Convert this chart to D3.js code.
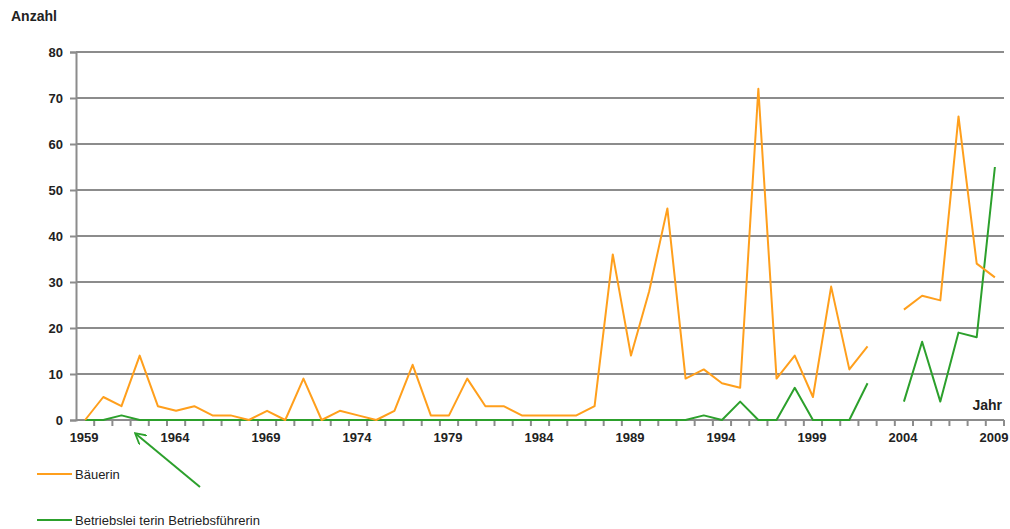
<!DOCTYPE html>
<html>
<head>
<meta charset="utf-8">
<script src="https://cdn.jsdelivr.net/npm/d3@7"></script>
<style>
  body { margin: 0; background: #fff; }
  text { font-family: "Liberation Sans", Arial, sans-serif; fill: #222; }
</style>
</head>
<body>
<div id="chart"></div>
<script>
// data (null = gap)
const years = d3.range(1959, 2010);
const baeuerin = [0, 5, 3, 14, 3, 2, 3, 1, 1, 0, 2, 0, 9, 0, 2, 1, 0, 2, 12, 1,
    1, 9, 3, 3, 1, 1, 1, 1, 3, 36, 14, 28, 46, 9, 11, 8, 7, 72, 9, 14,
    5, 29, 11, 16, null, 24, 27, 26, 66, 34, 31];
const leiterin = [0, 0, 1, 0, 0, 0, 0, 0, 0, 0, 0, 0, 0, 0, 0, 0, 0, 0, 0, 0,
    0, 0, 0, 0, 0, 0, 0, 0, 0, 0, 0, 0, 0, 0, 1, 0, 4, 0, 0, 7,
    0, 0, 0, 8, null, 4, 17, 4, 19, 18, 55];
const yTicks = [0, 10, 20, 30, 40, 50, 60, 70, 80];
const labelYears = [1959, 1964, 1969, 1974, 1979, 1984, 1989, 1994, 1999, 2004, 2009];
const seriesNames = ["Bäuerin", "Betriebslei terin Betriebsführerin"];
const colors = ["#ff9f1c", "#2ca02c"];

const W = 1010, H = 529;
const margin = {top: 52, right: 6, bottom: 109, left: 76};
const width = W - margin.left - margin.right;
const height = H - margin.top - margin.bottom;

const svg = d3.select("#chart").append("svg")
    .attr("width", W)
    .attr("height", H);

const g = svg.append("g")
    .attr("transform", `translate(${margin.left}, ${margin.top})`);

// scales
const x = d3.scaleBand()
    .domain(years)
    .range([0, width])
    .paddingInner(0)
    .paddingOuter(0);

const y = d3.scaleLinear()
    .domain([0, 80])
    .range([height, 0]);

const cx = d => x(d) + x.bandwidth() / 2;

// gridlines
g.selectAll(".grid")
    .data(yTicks.filter(d => d > 0))
    .enter().append("line")
    .attr("class", "grid")
    .attr("x1", 0)
    .attr("x2", width)
    .attr("y1", d => y(d))
    .attr("y2", d => y(d))
    .attr("stroke", "#8c8c8c")
    .attr("stroke-width", 2);

// y axis
const yAxis = d3.axisLeft(y).tickValues(yTicks).tickSize(6).tickPadding(7);
const yG = g.append("g").call(yAxis);
yG.select(".domain").attr("stroke", "#8c8c8c").attr("stroke-width", 2);
yG.selectAll(".tick line").attr("stroke", "#8c8c8c").attr("stroke-width", 2);
yG.selectAll("text").attr("font-size", 13).attr("font-weight", "bold").attr("fill", "#333")
    .style("font-family", "'Liberation Sans', Arial, sans-serif");

// x axis: ticks between categories
const xG = g.append("g").attr("transform", `translate(0, ${height})`);
xG.append("line")
    .attr("x1", 0).attr("x2", width)
    .attr("stroke", "#8c8c8c").attr("stroke-width", 2);
xG.selectAll(".xtick")
    .data(years)
    .enter().append("line")
    .attr("x1", d => x(d) + x.bandwidth())
    .attr("x2", d => x(d) + x.bandwidth())
    .attr("y1", 0).attr("y2", 6)
    .attr("stroke", "#8c8c8c").attr("stroke-width", 2);
xG.selectAll(".xlabel")
    .data(labelYears)
    .enter().append("text")
    .attr("x", d => cx(d) - 1)
    .attr("y", 22)
    .attr("text-anchor", "middle")
    .attr("font-size", 13)
    .attr("font-weight", "bold")
    .attr("fill", "#333")
    .text(d => d);

// lines
const line = d3.line()
    .defined(d => d != null)
    .x((d, i) => cx(years[i]))
    .y(d => y(d));

[leiterin, baeuerin].forEach((s, k) => {
    g.append("path")
        .datum(s)
        .attr("fill", "none")
        .attr("stroke", k === 0 ? colors[1] : colors[0])
        .attr("stroke-width", 2)
        .attr("stroke-linejoin", "round")
        .attr("d", line);
});

// axis titles
svg.append("text")
    .attr("x", 11).attr("y", 21)
    .attr("font-size", 14).attr("font-weight", "bold")
    .text("Anzahl");
svg.append("text")
    .attr("x", 1002).attr("y", 410)
    .attr("text-anchor", "end")
    .attr("font-size", 14).attr("font-weight", "bold")
    .text("Jahr");

// legend
const legend = svg.append("g");
seriesNames.forEach((name, i) => {
    const ly = 474 + i * 46;
    legend.append("line")
        .attr("x1", 37).attr("x2", 72)
        .attr("y1", ly).attr("y2", ly)
        .attr("stroke", colors[i]).attr("stroke-width", 2);
    legend.append("text")
        .attr("x", 75).attr("y", ly + 5)
        .attr("font-size", 13)
        .text(name);
});

// arrow annotation
svg.append("defs").append("marker")
    .attr("id", "arrow")
    .attr("viewBox", "0 0 10 10")
    .attr("refX", 8).attr("refY", 5)
    .attr("markerWidth", 6).attr("markerHeight", 6)
    .attr("orient", "auto")
    .append("path")
    .attr("d", "M0,0 L9,5 L0,10")
    .attr("fill", "none")
    .attr("stroke", "#2ca02c")
    .attr("stroke-width", 1.5);

svg.append("line")
    .attr("x1", 200).attr("y1", 487)
    .attr("x2", 136).attr("y2", 434)
    .attr("stroke", "#2ca02c")
    .attr("stroke-width", 2)
    .attr("marker-end", "url(#arrow)");
</script>
</body>
</html>
